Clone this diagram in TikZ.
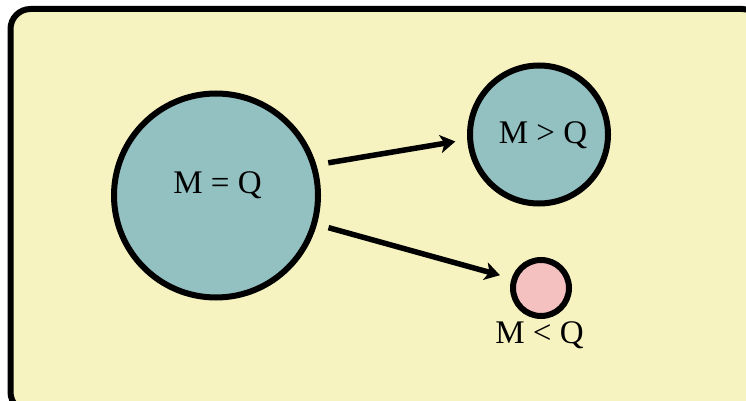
\documentclass[tikz,border=0pt]{standalone}
\usepackage{fontspec}
\setmainfont{Liberation Serif}
\usetikzlibrary{arrows.meta}
\definecolor{bgyellow}{RGB}{247,243,192}
\definecolor{tealfill}{RGB}{147,192,193}
\definecolor{pinkfill}{RGB}{244,192,192}
\tikzset{
  ball/.style={circle, draw=black, line width=6pt, inner sep=0pt},
  lbl/.style={anchor=base, inner sep=0pt, font=\fontsize{33}{36}\selectfont},
  arr/.style={line width=5.5pt, -{Stealth[length=15pt,width=18pt,inset=4pt]}, shorten <=12pt, shorten >=12pt}
}
\begin{document}
\begin{tikzpicture}[x=1pt,y=-1pt]
\useasboundingbox (0,0) rectangle (746,401);
\clip (0,0) rectangle (746,401);
\draw[fill=bgyellow, line width=6pt, rounded corners=20pt] (10.5,9) rectangle (762,412);
\node[ball, fill=tealfill, minimum size=204pt] (eq) at (216,195.5) {};
\node[ball, fill=tealfill, minimum size=138pt] (gt) at (539,134.5) {};
\node[ball, fill=pinkfill, minimum size=56pt] (lt) at (541,288) {};
\node[lbl] (teq) at (217.5,193) {M = Q};
\node[lbl] (tgt) at (543,143) {M > Q};
\node[lbl] (tlt) at (539.5,343) {M < Q};
\draw[arr] (eq.17) -- (gt.184);
\draw[arr] (eq.-16) -- (lt.162);
\end{tikzpicture}
\end{document}
